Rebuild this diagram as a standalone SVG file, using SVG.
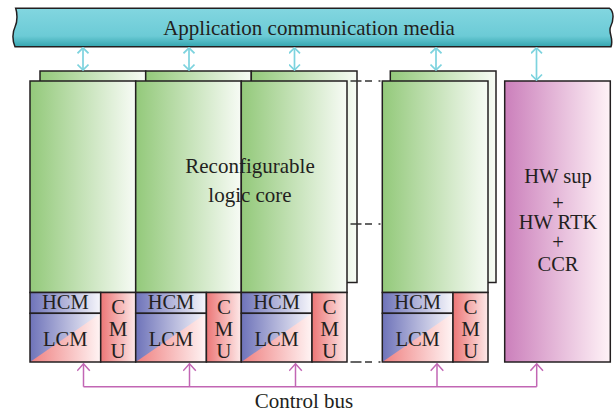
<svg xmlns="http://www.w3.org/2000/svg" width="616" height="415" viewBox="0 0 616 415">
<defs>
<linearGradient id="gBar" x1="0" y1="0" x2="0" y2="1">
<stop offset="0" stop-color="#82d6e0"/><stop offset="0.72" stop-color="#6ccbd6"/><stop offset="1" stop-color="#34a5af"/>
</linearGradient>
<linearGradient id="gGreen" x1="0" y1="0" x2="1" y2="0">
<stop offset="0" stop-color="#93c97a"/><stop offset="1" stop-color="#f7fbf5"/>
</linearGradient>
<linearGradient id="gBlue" x1="0" y1="0" x2="1" y2="0">
<stop offset="0" stop-color="#6e73b9"/><stop offset="1" stop-color="#f6f6fb"/>
</linearGradient>
<linearGradient id="gPink" x1="0" y1="0" x2="1" y2="0">
<stop offset="0" stop-color="#ef8080"/><stop offset="1" stop-color="#fff4f4"/>
</linearGradient>
<linearGradient id="gCmu" x1="0" y1="0" x2="1" y2="0">
<stop offset="0" stop-color="#ec7676"/><stop offset="1" stop-color="#fde9e9"/>
</linearGradient>
<linearGradient id="gHw" x1="0" y1="0" x2="1" y2="0">
<stop offset="0" stop-color="#cb7fbb"/><stop offset="1" stop-color="#fff3f7"/>
</linearGradient>
<marker id="ac" viewBox="0 0 12 12" refX="11" refY="6" markerWidth="12" markerHeight="12" markerUnits="userSpaceOnUse" orient="auto-start-reverse">
<path d="M5.5,0.5 L11,6 L5.5,11.5" fill="none" stroke="#7dd3de" stroke-width="1.7"/>
</marker>
<marker id="am" viewBox="0 0 14 14" refX="13" refY="7" markerWidth="14" markerHeight="14" markerUnits="userSpaceOnUse" orient="auto">
<path d="M6,0.7 L13,7 L6,13.3" fill="none" stroke="#c266b4" stroke-width="1.5"/>
</marker>
</defs>
<style>
.t{font-family:"Liberation Serif","Times New Roman",serif;font-size:20.5px;fill:#231f20;text-anchor:middle}
.c{font-size:21px}
.big{font-size:21px}
.box{stroke:#231f20;stroke-width:1.5}
.grn{fill:url(#gGreen)}
.hcm{fill:url(#gBlue)}
.lcmp{fill:url(#gPink)}
.cmu{fill:url(#gCmu)}
.cy{stroke:#7dd3de;stroke-width:1.7;fill:none;marker-start:url(#ac);marker-end:url(#ac)}
.mg{stroke:#c266b4;stroke-width:1.5;fill:none}
.mga{stroke:#c266b4;stroke-width:1.5;fill:none;marker-end:url(#am)}
.ds{stroke:#333;stroke-width:1.5;fill:none;stroke-dasharray:11 3.5 7 6.5 2 30}
</style>

<g id="media">
<path class="box" fill="url(#gBar)" d="M15.7,8.3 L609.5,8.3 C614,11 614,20 610.5,27 C608,33 614,38 611,46.7 L15,46.7 C12,40 12.5,32 15,27 C18,21 17,12 15.7,8.3 Z"/>
<text class="t big" x="309" y="35">Application communication media</text>
</g>

<g id="unit1-back"><rect class="box grn" x="40" y="71" width="105.7" height="211.5"/></g>
<g id="unit2-back"><rect class="box grn" x="145.7" y="71" width="105.6" height="211.5"/></g>
<g id="unit3-back"><rect class="box grn" x="251.3" y="71" width="105.7" height="211.5"/></g>
<g id="unit4-back"><rect class="box grn" x="390.3" y="71" width="105.7" height="211.5"/></g>

<g id="unit1">
<rect class="box grn" x="30" y="81" width="105.7" height="211.5"/>
<rect class="box hcm" x="30" y="292.5" width="70.7" height="20.8"/>
<rect class="hcm" x="30" y="313.3" width="70.7" height="48.7"/>
<path class="lcmp" d="M30,362 L100.7,313.3 L100.7,362 Z"/>
<rect class="box" fill="none" x="30" y="313.3" width="70.7" height="48.7"/>
<rect class="box cmu" x="100.7" y="292.5" width="35" height="69.5"/>
<text class="t" x="65.3" y="309.3">HCM</text>
<text class="t" x="65.3" y="345.5">LCM</text>
<text class="t c" x="118.2" y="314.3">C</text>
<text class="t c" x="118.2" y="336">M</text>
<text class="t c" x="118.2" y="358">U</text>
</g>

<g id="unit2">
<rect class="box grn" x="135.7" y="81" width="105.6" height="211.5"/>
<rect class="box hcm" x="135.7" y="292.5" width="70.7" height="20.8"/>
<rect class="hcm" x="135.7" y="313.3" width="70.7" height="48.7"/>
<path class="lcmp" d="M135.7,362 L206.4,313.3 L206.4,362 Z"/>
<rect class="box" fill="none" x="135.7" y="313.3" width="70.7" height="48.7"/>
<rect class="box cmu" x="206.4" y="292.5" width="34.9" height="69.5"/>
<text class="t" x="171" y="309.3">HCM</text>
<text class="t" x="171" y="345.5">LCM</text>
<text class="t c" x="223.9" y="314.3">C</text>
<text class="t c" x="223.9" y="336">M</text>
<text class="t c" x="223.9" y="358">U</text>
</g>

<g id="unit3">
<rect class="box grn" x="241.3" y="81" width="105.7" height="211.5"/>
<rect class="box hcm" x="241.3" y="292.5" width="70.7" height="20.8"/>
<rect class="hcm" x="241.3" y="313.3" width="70.7" height="48.7"/>
<path class="lcmp" d="M241.3,362 L312,313.3 L312,362 Z"/>
<rect class="box" fill="none" x="241.3" y="313.3" width="70.7" height="48.7"/>
<rect class="box cmu" x="312" y="292.5" width="35" height="69.5"/>
<text class="t" x="276.6" y="309.3">HCM</text>
<text class="t" x="276.6" y="345.5">LCM</text>
<text class="t c" x="329.5" y="314.3">C</text>
<text class="t c" x="329.5" y="336">M</text>
<text class="t c" x="329.5" y="358">U</text>
</g>

<g id="unit4">
<rect class="box grn" x="382.3" y="81" width="105.7" height="211.5"/>
<rect class="box hcm" x="382.3" y="292.5" width="70.7" height="20.8"/>
<rect class="hcm" x="382.3" y="313.3" width="70.7" height="48.7"/>
<path class="lcmp" d="M382.3,362 L453,313.3 L453,362 Z"/>
<rect class="box" fill="none" x="382.3" y="313.3" width="70.7" height="48.7"/>
<rect class="box cmu" x="453" y="292.5" width="35" height="69.5"/>
<text class="t" x="417.6" y="309.3">HCM</text>
<text class="t" x="417.6" y="345.5">LCM</text>
<text class="t c" x="470.5" y="314.3">C</text>
<text class="t c" x="470.5" y="336">M</text>
<text class="t c" x="470.5" y="358">U</text>
</g>

<g id="core-label">
<text class="t big" x="250" y="173.3">Reconfigurable</text>
<text class="t big" x="250" y="201.7">logic core</text>
</g>

<g id="hw">
<rect class="box" fill="url(#gHw)" x="504.7" y="81" width="105.6" height="281"/>
<text class="t" x="558" y="183.3">HW sup</text>
<text class="t" x="558" y="210">+</text>
<text class="t" x="558" y="229.3">HW RTK</text>
<text class="t" x="558" y="249">+</text>
<text class="t" x="558" y="270.7">CCR</text>
</g>

<g id="connectors">
<path class="cy" d="M83,47.8 V70"/>
<path class="cy" d="M189,47.8 V70"/>
<path class="cy" d="M294.5,47.8 V70"/>
<path class="cy" d="M436,47.8 V70"/>
<path class="cy" d="M536.5,47.8 V80"/>
<path class="mg" d="M83.5,386.7 H536.7"/>
<path class="mga" d="M83.5,386.7 V363.8"/>
<path class="mga" d="M189.5,386.7 V363.8"/>
<path class="mga" d="M295.5,386.7 V363.8"/>
<path class="mga" d="M437,386.7 V363.8"/>
<path class="mga" d="M536.7,386.7 V363.8"/>
<path class="ds" d="M350.5,81 H382"/>
<path class="ds" d="M350.5,224 H382"/>
<path class="ds" d="M350.5,362 H382"/>
</g>

<text class="t big" x="304" y="408.3">Control bus</text>
</svg>
